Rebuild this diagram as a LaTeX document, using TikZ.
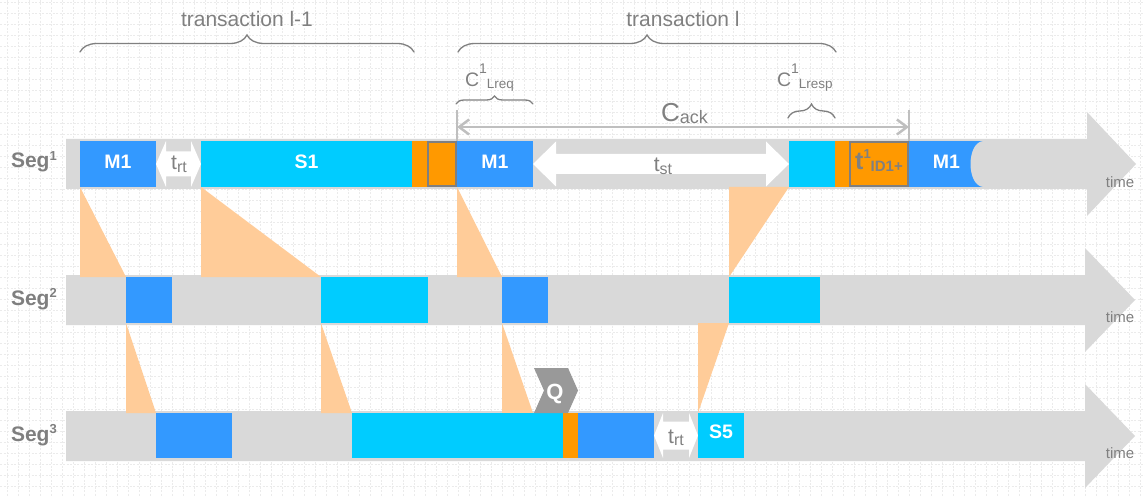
\documentclass[tikz,border=0pt]{standalone}
\usepackage{fontspec}
\setmainfont{Liberation Sans}
\usetikzlibrary{arrows.meta,decorations.pathreplacing}
\definecolor{bargray}{HTML}{D9D9D9}
\definecolor{mblue}{HTML}{3399FF}
\definecolor{scyan}{HTML}{00CCFF}
\definecolor{ora}{HTML}{FF9900}
\definecolor{lora}{HTML}{FFCC99}
\definecolor{txtgray}{HTML}{808080}
\definecolor{lngray}{HTML}{BFBFBF}
\definecolor{qgray}{HTML}{999999}
\definecolor{gridc}{HTML}{EBEBEB}
\definecolor{olgray}{HTML}{7F7F7F}
\newcommand{\fsz}[1]{\fontsize{#1}{#1}\selectfont}
\begin{document}
\begin{tikzpicture}[x=1pt,y=-1pt,
  txt/.style={inner sep=0pt,outer sep=0pt,anchor=base west,text=txtgray},
  ctxt/.style={inner sep=0pt,outer sep=0pt,anchor=base,text=txtgray},
  wtxt/.style={inner sep=0pt,outer sep=0pt,anchor=base,text=white,font=\bfseries\fsz{19.5}},
  segtxt/.style={inner sep=0pt,outer sep=0pt,anchor=base west,text=olgray,font=\bfseries\fsz{21}},
  mbox/.style={fill=mblue},
  sbox/.style={fill=scyan},
  obox/.style={fill=ora},
  oline/.style={fill=ora,draw=olgray,line width=2pt},
  tri/.style={fill=lora},
  dbl/.style={fill=white},
  brc/.style={draw=txtgray,line width=1.3pt,line cap=round,decorate,decoration={brace,amplitude=#1}},
  gridl/.style={draw=gridc,line width=0.6pt,dash pattern=on 2pt off 1.5pt}
]
\useasboundingbox (0,0) rectangle (1145,497);
\fill[white] (0,0) rectangle (1145,497);
% grid
\foreach \gx in {0,...,103} {\draw[gridl] (7.3+11*\gx,0) -- (7.3+11*\gx,497);}
\foreach \gy in {0,...,44} {\draw[gridl] (0,2.3+11*\gy) -- (1145,2.3+11*\gy);}
% time bars
\fill[bargray] (66,139) -- (1087,139) -- (1087,112) -- (1136,164) -- (1087,216) -- (1087,189) -- (66,189) -- cycle;
\fill[bargray] (66,275) -- (1085,275) -- (1085,248) -- (1135,300) -- (1085,352) -- (1085,325) -- (66,325) -- cycle;
\fill[bargray] (66,411) -- (1085,411) -- (1085,384) -- (1135,436) -- (1085,488) -- (1085,461) -- (66,461) -- cycle;
% propagation triangles
\fill[tri] (80,187) -- (80,277) -- (126,277) -- cycle;
\fill[tri] (201,187) -- (201,277) -- (321,277) -- cycle;
\fill[tri] (457,187) -- (457,277) -- (502,277) -- cycle;
\fill[tri] (729,187) -- (789,187) -- (729,277) -- cycle;
\fill[tri] (126,323) -- (126,413) -- (156,413) -- cycle;
\fill[tri] (321,323) -- (321,413) -- (352,413) -- cycle;
\fill[tri] (502,323) -- (502,413) -- (533,413) -- cycle;
\fill[tri] (698,323) -- (729,323) -- (698,413) -- cycle;
% Seg1 blocks
\fill[mbox] (80,141) rectangle (156,187);
\fill[dbl] (156,164) -- (166,141) -- (166,151.5) -- (191,151.5) -- (191,141) -- (201,164) -- (191,187) -- (191,176.5) -- (166,176.5) -- (166,187) -- cycle;
\fill[sbox] (201,141) rectangle (412,187);
\fill[obox] (412,141) rectangle (428,187);
\filldraw[oline] (428,142) rectangle (456,186);
\fill[mbox] (457,141) rectangle (533,187);
\fill[dbl] (533,164) -- (556,141.5) -- (556,154) -- (766,154) -- (766,141.5) -- (789,164) -- (766,186.5) -- (766,174) -- (556,174) -- (556,186.5) -- cycle;
\fill[sbox] (789,141) rectangle (835,187);
\fill[obox] (835,141) rectangle (849,187);
\filldraw[oline] (850,142) rectangle (908,186);
\fill[mbox] (909,141) rectangle (984,187);
\fill[bargray] (990,141) -- (984,141) .. controls (966,141) and (966,187) .. (984,187) -- (990,187) -- cycle;
% Seg2 blocks
\fill[mbox] (126,277) rectangle (172,323);
\fill[sbox] (321,277) rectangle (428,323);
\fill[mbox] (502,277) rectangle (548,323);
\fill[sbox] (729,277) rectangle (820,323);
% Seg3 blocks
\fill[mbox] (156,413) rectangle (232,458);
\fill[sbox] (352,413) rectangle (563,458);
\fill[obox] (563,413) rectangle (578,458);
\fill[mbox] (578,413) rectangle (654,458);
\fill[dbl] (654,435.5) -- (663,413) -- (663,421.5) -- (689,421.5) -- (689,413) -- (698,435.5) -- (689,458) -- (689,449.5) -- (663,449.5) -- (663,458) -- cycle;
\fill[sbox] (698,413) rectangle (744,458);
% Q marker
\fill[qgray] (534,368) -- (568,368) -- (578,390.5) -- (568,413) -- (534,413) -- (544,390.5) -- cycle;
% labels
\node[segtxt] (seg1) at (11,168) {Seg\raisebox{8pt}{\fsz{13}1}};
\node[segtxt] (seg2) at (11,305) {Seg\raisebox{8pt}{\fsz{13}2}};
\node[segtxt] (seg3) at (11,441) {Seg\raisebox{8pt}{\fsz{13}3}};
\node[wtxt] (m1a) at (118,169) {M1};
\node[wtxt] (s1) at (306.5,169) {S1};
\node[wtxt] (m1b) at (495,169) {M1};
\node[wtxt] (m1c) at (946.5,169) {M1};
\node[wtxt] (s5) at (721,438.5) {S5};
\node[wtxt,font=\bfseries\fsz{22}] (q) at (555,399) {Q};
\node[ctxt,font=\fsz{21}] (trt1) at (179,170) {t\raisebox{-3pt}{\fsz{16}rt}};
\node[ctxt,font=\fsz{21}] (tst) at (663,172) {t\raisebox{-2pt}{\fsz{16}st}};
\node[ctxt,font=\fsz{21}] (trt3) at (676,443) {t\raisebox{-2pt}{\fsz{16}rt}};
\node[ctxt,font=\bfseries\fsz{25}] (tid) at (879,170) {t\raisebox{11pt}{\fsz{13}1}\raisebox{-2pt}{\fsz{15}ID1+}};
\node[ctxt,font=\fsz{15}] (time1) at (1120,187) {time};
\node[ctxt,font=\fsz{15}] (time2) at (1120,322.5) {time};
\node[ctxt,font=\fsz{15}] (time3) at (1120,458) {time};
% transactions
\node[ctxt,font=\fsz{21}] (tr1) at (247,27) {transaction l-1};
\node[ctxt,font=\fsz{21}] (tr2) at (683,27) {transaction l};
\draw[brc=17] (80,52) -- (414,52);
\draw[brc=17] (458,52) -- (836,52);
% C annotations
\node[txt,font=\fsz{19.5}] (creq) at (465,87) {C\raisebox{13pt}{\fsz{14}1}\raisebox{-2pt}{\fsz{13.5}Lreq}};
\node[txt,font=\fsz{19.5}] (cresp) at (777,87) {C\raisebox{13pt}{\fsz{14}1}\raisebox{-2pt}{\fsz{13.5}Lresp}};
\draw[brc=8] (456,104) -- (533,104);
\draw[brc=14] (788,118) -- (835,118);
\node[txt,font=\fsz{26}] (cack) at (661,122) {C\raisebox{-2pt}{\fsz{18}ack}};
\coordinate (ackl) at (457,127);
\coordinate (ackr) at (909,127);
\coordinate (tickla) at (457,110);
\coordinate (ticklb) at (457,141);
\coordinate (tickra) at (909,110);
\coordinate (tickrb) at (909,141);
\draw[lngray,line width=1.5pt] (tickla) -- (ticklb);
\draw[lngray,line width=1.5pt] (tickra) -- (tickrb);
\draw[lngray,line width=2.5pt,{Straight Barb[length=10pt,width=15pt]}-{Straight Barb[length=10pt,width=15pt]}] (ackl) -- (ackr);
\end{tikzpicture}
\end{document}
